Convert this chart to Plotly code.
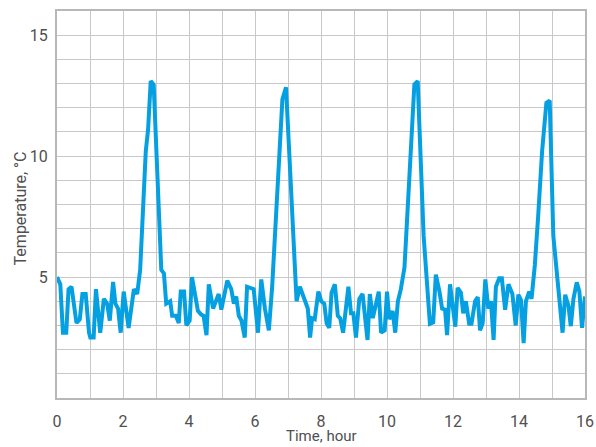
import plotly.graph_objects as go

time_hour = [
    0.00, 0.10, 0.18, 0.28, 0.35, 0.44, 0.59, 0.69, 0.77, 0.87, 0.97, 1.01, 1.11, 1.18, 1.31, 1.42,
    1.52, 1.60, 1.70, 1.77, 1.85, 1.93, 2.02, 2.17, 2.33, 2.43, 2.52, 2.69, 2.76, 2.84, 2.93, 3.06,
    3.16, 3.24, 3.31, 3.43, 3.49, 3.60, 3.69, 3.75, 3.85, 3.92, 4.02, 4.09, 4.20, 4.27, 4.37, 4.44,
    4.53, 4.60, 4.73, 4.90, 4.98, 5.16, 5.28, 5.36, 5.43, 5.51, 5.59, 5.69, 5.76, 5.86, 5.96, 6.09,
    6.19, 6.30, 6.42, 6.52, 6.55, 6.83, 6.94, 7.26, 7.36, 7.49, 7.60, 7.67, 7.73, 7.81, 7.92, 8.01,
    8.10, 8.17, 8.25, 8.32, 8.42, 8.51, 8.58, 8.67, 8.83, 8.91, 8.98, 9.06, 9.16, 9.26, 9.41, 9.48,
    9.57, 9.75, 9.82, 9.93, 10.00, 10.07, 10.17, 10.25, 10.33, 10.42, 10.53, 10.83, 10.93, 11.11,
    11.30, 11.40, 11.48, 11.59, 11.67, 11.76, 11.82, 11.91, 11.99, 12.07, 12.14, 12.24, 12.31,
    12.39, 12.49, 12.56, 12.67, 12.75, 12.82, 12.90, 12.98, 13.07, 13.15, 13.23, 13.30, 13.40,
    13.48, 13.58, 13.68, 13.80, 13.90, 13.98, 14.06, 14.14, 14.21, 14.31, 14.38, 14.48, 14.58,
    14.70, 14.83, 14.93, 15.04, 15.32, 15.40, 15.50, 15.57, 15.65, 15.75, 15.83, 15.91, 16.00,
]

temperature_c = [
    5.0, 4.7, 2.7, 2.7, 4.5, 4.6, 3.1, 3.25, 4.3, 4.3, 2.7, 2.5, 2.5, 4.5, 2.7, 4.1,
    3.9, 3.2, 4.8, 3.9, 3.7, 2.7, 4.4, 2.9, 4.5, 4.3, 5.3, 10.2, 11.1, 13.1, 12.95, 9.0,
    5.3, 5.15, 3.9, 4.0, 3.4, 3.4, 3.1, 4.4, 4.4, 3.0, 3.2, 5.0, 4.0, 3.6, 3.45, 3.4,
    2.6, 4.7, 3.7, 4.3, 3.65, 4.85, 4.5, 3.9, 4.2, 3.4, 3.2, 2.5, 4.6, 4.55, 4.5, 2.7,
    4.9, 3.7, 2.8, 4.6, 5.3, 12.35, 12.84, 4.0, 4.6, 4.13, 3.7, 2.5, 3.3, 3.26, 4.4, 4.0,
    3.9, 3.1, 2.9, 4.35, 4.7, 3.4, 3.3, 2.7, 4.6, 3.5, 3.5, 2.5, 4.1, 4.3, 2.4, 4.3,
    3.3, 4.4, 2.7, 2.8, 4.4, 3.26, 3.6, 2.7, 4.0, 4.5, 5.4, 12.97, 13.1, 6.7,
    3.07, 3.13, 5.1, 4.4, 3.7, 3.65, 2.6, 4.7, 3.65, 2.95, 4.55, 4.35, 3.5,
    4.0, 3.07, 3.07, 4.0, 4.17, 2.8, 3.1, 4.9, 3.7, 4.0, 2.4, 4.6, 4.95,
    4.95, 3.65, 4.7, 4.3, 3.0, 4.27, 4.05, 2.27, 4.0, 4.4, 4.1, 5.5, 7.5,
    10.2, 12.2, 12.3, 6.7, 2.7, 4.27, 3.8, 2.97, 4.1, 4.78, 4.4, 2.9, 4.2,
]

x_ticks = [0, 2, 4, 6, 8, 10, 12, 14, 16]
y_ticks = [5, 10, 15]

grid_color = "#c8c8c8"
frame_color = "#b8b8b8"
text_color = "#505050"

fig = go.Figure()
fig.add_trace(go.Scatter(
    x=time_hour, y=temperature_c, mode="lines",
    line=dict(color="#05a0e2", width=4),
    showlegend=False, hoverinfo="skip",
))

fig.update_layout(
    width=596, height=447,
    margin=dict(l=57, r=11, t=11, b=49),
    paper_bgcolor="white", plot_bgcolor="white",
    font=dict(family="Roboto, Arial, sans-serif", size=16, color=text_color),
    xaxis=dict(
        range=[0, 16], tickvals=x_ticks, ticktext=[str(v) for v in x_ticks],
        showgrid=True, gridcolor=grid_color, gridwidth=1,
        minor=dict(dtick=1, tick0=0, showgrid=True, gridcolor=grid_color, gridwidth=1),
        showline=True, linecolor=frame_color, linewidth=2, mirror=True,
        ticks="", zeroline=False, ticklabelstandoff=8, automargin=False,
    ),
    yaxis=dict(
        range=[0, 16], tickvals=y_ticks, ticktext=[str(v) for v in y_ticks],
        showgrid=True, gridcolor=grid_color, gridwidth=1,
        minor=dict(dtick=1, tick0=0, showgrid=True, gridcolor=grid_color, gridwidth=1),
        showline=True, linecolor=frame_color, linewidth=2, mirror=True,
        ticks="", zeroline=False, ticklabelstandoff=4, automargin=False,
    ),
    annotations=[
        dict(
            text="Temperature, °C", textangle=-90,
            xref="paper", yref="paper", x=-0.07, y=0.49,
            xanchor="center", yanchor="middle", showarrow=False,
            font=dict(size=16, color=text_color),
        ),
        dict(
            text="Time, hour",
            xref="paper", yref="paper", x=0.5, y=-0.0992,
            xanchor="center", yanchor="middle", showarrow=False,
            font=dict(size=15, color=text_color),
        ),
    ],
)

fig.write_html(
    "out.html",
    config={"displayModeBar": False},
    post_script="document.body.style.margin='0';document.body.style.padding='0';",
)
